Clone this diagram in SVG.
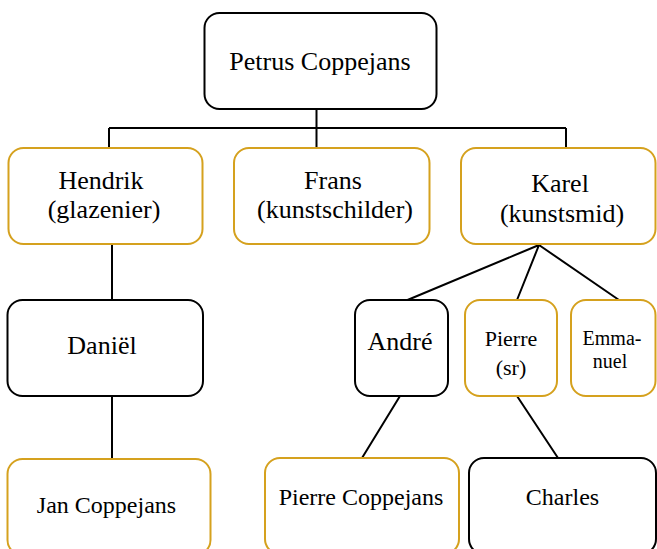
<svg xmlns="http://www.w3.org/2000/svg" width="657" height="549" viewBox="0 0 657 549">
<style>
rect{fill:#fff;stroke-width:2}
.k{stroke:#000}
.g{stroke:#d5a11e}
text{font-family:'Liberation Serif',Tinos,'Times New Roman','DejaVu Serif','Noto Serif',serif;fill:#000;text-anchor:middle}
.a{font-size:26px}
.b{font-size:24px}
.c{font-size:22px}
.d{font-size:20px}
#edges path{fill:none;stroke:#000;stroke-width:2}
</style>
<g id="edges">
<path d="M316.5 109V148M109 128H566M109 128V148M566 128V148"/>
<path d="M112 244V300M112 396V459"/>
<path d="M539 245L407.5 300M539 245L517 300M539 245L619 300"/>
<path d="M400 396L362 458M517 396L558 458"/>
</g>
<g id="petrus"><rect class="k" x="204.5" y="13" width="232" height="96" rx="15"/><text class="a" x="320" y="70">Petrus Coppejans</text></g>
<g id="hendrik"><rect class="g" x="8.5" y="148" width="194" height="96" rx="15"/><text class="a" x="101" y="189">Hendrik</text><text class="a" x="104" y="218">(glazenier)</text></g>
<g id="frans"><rect class="g" x="234" y="148" width="195.5" height="96" rx="15"/><text class="a" x="333" y="189">Frans</text><text class="a" x="335" y="218">(kunstschilder)</text></g>
<g id="karel"><rect class="g" x="461" y="148" width="194.5" height="96" rx="15"/><text class="a" x="560" y="192">Karel</text><text class="a" x="562" y="222">(kunstsmid)</text></g>
<g id="daniel"><rect class="k" x="7.5" y="300" width="195.5" height="96" rx="15"/><text class="a" x="102" y="354">Daniël</text></g>
<g id="andre"><rect class="k" x="355" y="300" width="93" height="96" rx="15"/><text class="a" x="400" y="350">André</text></g>
<g id="pierre-sr"><rect class="g" x="465" y="300" width="92" height="96" rx="15"/><text class="c" x="511" y="346">Pierre</text><text class="c" x="511" y="375">(sr)</text></g>
<g id="emmanuel"><rect class="g" x="571" y="300" width="84.5" height="96" rx="15"/><text class="d" x="612" y="345">Emma-</text><text class="d" x="610" y="368">nuel</text></g>
<g id="jan"><rect class="g" x="7.5" y="459" width="203" height="96" rx="15"/><text class="b" x="106.5" y="513">Jan Coppejans</text></g>
<g id="pierre-c"><rect class="g" x="265" y="458" width="194" height="96" rx="15"/><text class="b" x="361" y="505">Pierre Coppejans</text></g>
<g id="charles"><rect class="k" x="469" y="458" width="187" height="96" rx="15"/><text class="b" x="562.5" y="505">Charles</text></g>
</svg>
